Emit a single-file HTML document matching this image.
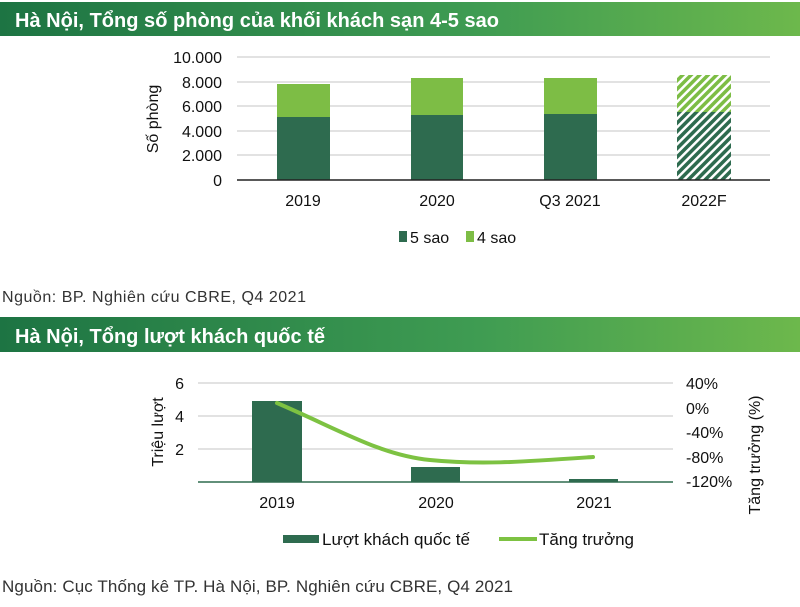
<!DOCTYPE html>
<html><head><meta charset="utf-8"><style>
body{margin:0;width:800px;height:607px;background:#fff;overflow:hidden;font-family:"Liberation Sans",sans-serif;}
svg{display:block}
</style></head><body>
<svg width="800" height="607" xmlns="http://www.w3.org/2000/svg" font-family="Liberation Sans, sans-serif">
<defs>
<linearGradient id="hg" x1="0" x2="1" y1="0" y2="0"><stop offset="0" stop-color="#1d7443"/><stop offset="0.6" stop-color="#3f9c52"/><stop offset="1" stop-color="#6db84c"/></linearGradient>
<pattern id="hd" width="6" height="6" patternUnits="userSpaceOnUse" patternTransform="rotate(45)"><rect width="6" height="6" fill="#fff"/><rect width="3.5" height="6" fill="#2e6b4f"/></pattern>
<pattern id="hl" width="6" height="6" patternUnits="userSpaceOnUse" patternTransform="rotate(45)"><rect width="6" height="6" fill="#fff"/><rect width="3.5" height="6" fill="#7dbd45"/></pattern>
</defs>
<rect x="0" y="2" width="800" height="34" fill="url(#hg)"/>
<text x="15" y="27" fill="#fff" font-size="20" font-weight="bold" textLength="484">Hà Nội, Tổng số phòng của khối khách sạn 4-5 sao</text>
<g stroke="#d9d9d9" stroke-width="1.5">
<line x1="237" x2="770" y1="57" y2="57"/><line x1="237" x2="770" y1="82" y2="82"/><line x1="237" x2="770" y1="106" y2="106"/><line x1="237" x2="770" y1="131" y2="131"/><line x1="237" x2="770" y1="155" y2="155"/>
</g>
<g font-size="16" fill="#111" text-anchor="end">
<text x="222" y="63">10.000</text><text x="222" y="88">8.000</text><text x="222" y="112">6.000</text><text x="222" y="137">4.000</text><text x="222" y="161">2.000</text><text x="222" y="186">0</text>
</g>
<text transform="translate(158,119) rotate(-90)" font-size="16" text-anchor="middle" fill="#111">Số phòng</text>
<rect x="277" y="117" width="53" height="63" fill="#2e6b4f"/><rect x="277" y="84" width="53" height="33" fill="#7dbd45"/>
<rect x="411" y="115" width="52" height="65" fill="#2e6b4f"/><rect x="411" y="78" width="52" height="37" fill="#7dbd45"/>
<rect x="544" y="114" width="53" height="66" fill="#2e6b4f"/><rect x="544" y="78" width="53" height="36" fill="#7dbd45"/>
<rect x="677" y="112" width="54" height="68" fill="url(#hd)"/><rect x="677" y="75" width="54" height="37" fill="url(#hl)"/>
<line x1="237" x2="770" y1="180" y2="180" stroke="#222" stroke-width="1.5"/>
<g font-size="16" fill="#111" text-anchor="middle">
<text x="303" y="206">2019</text><text x="437" y="206">2020</text><text x="570" y="206">Q3 2021</text><text x="704" y="206">2022F</text>
</g>
<rect x="399" y="231" width="8" height="11" fill="#2e6b4f"/><text x="410" y="243" font-size="16" fill="#111">5 sao</text>
<rect x="466" y="231" width="8" height="11" fill="#7dbd45"/><text x="477" y="243" font-size="16" fill="#111">4 sao</text>
<text x="2" y="302" font-size="16" fill="#333" textLength="304">Nguồn: BP. Nghiên cứu CBRE, Q4 2021</text>

<rect x="0" y="317" width="800" height="35" fill="url(#hg)"/>
<text x="15" y="343" fill="#fff" font-size="20" font-weight="bold" textLength="310">Hà Nội, Tổng lượt khách quốc tế</text>
<g stroke="#d9d9d9" stroke-width="1.5">
<line x1="198" x2="673" y1="383" y2="383"/><line x1="198" x2="673" y1="416" y2="416"/><line x1="198" x2="673" y1="449" y2="449"/>
</g>
<g font-size="16" fill="#111" text-anchor="end">
<text x="184" y="389">6</text><text x="184" y="422">4</text><text x="184" y="455">2</text>
</g>
<text transform="translate(163,432) rotate(-90)" font-size="16" text-anchor="middle" fill="#111">Triệu lượt</text>
<rect x="252" y="401" width="50" height="81" fill="#2e6b4f"/>
<rect x="411" y="467" width="49" height="15" fill="#2e6b4f"/>
<rect x="569" y="479" width="49" height="3" fill="#2e6b4f"/>
<line x1="198" x2="673" y1="482" y2="482" stroke="#2e6b4f" stroke-width="1.5"/>
<path d="M277,403 C340,430 380,455 430,460 C480,465 520,462 593,457" fill="none" stroke="#7dc242" stroke-width="4" stroke-linecap="round"/>
<g font-size="16" fill="#111">
<text x="686" y="389">40%</text><text x="686" y="414">0%</text><text x="686" y="438">-40%</text><text x="686" y="463">-80%</text><text x="686" y="487">-120%</text>
</g>
<text transform="translate(760,455) rotate(-90)" font-size="16" text-anchor="middle" fill="#111">Tăng trưởng (%)</text>
<g font-size="16" fill="#111" text-anchor="middle">
<text x="277" y="508">2019</text><text x="436" y="508">2020</text><text x="594" y="508">2021</text>
</g>
<rect x="283" y="535" width="36" height="8" fill="#2e6b4f"/><text x="322" y="545" font-size="17" fill="#111" textLength="148">Lượt khách quốc tế</text>
<line x1="499" x2="537" y1="539" y2="539" stroke="#7dc242" stroke-width="4"/><text x="539" y="545" font-size="17" fill="#111" textLength="95">Tăng trưởng</text>
<text x="2" y="592" font-size="17" fill="#333" textLength="511">Nguồn: Cục Thống kê TP. Hà Nội, BP. Nghiên cứu CBRE, Q4 2021</text>
</svg>
</body></html>
